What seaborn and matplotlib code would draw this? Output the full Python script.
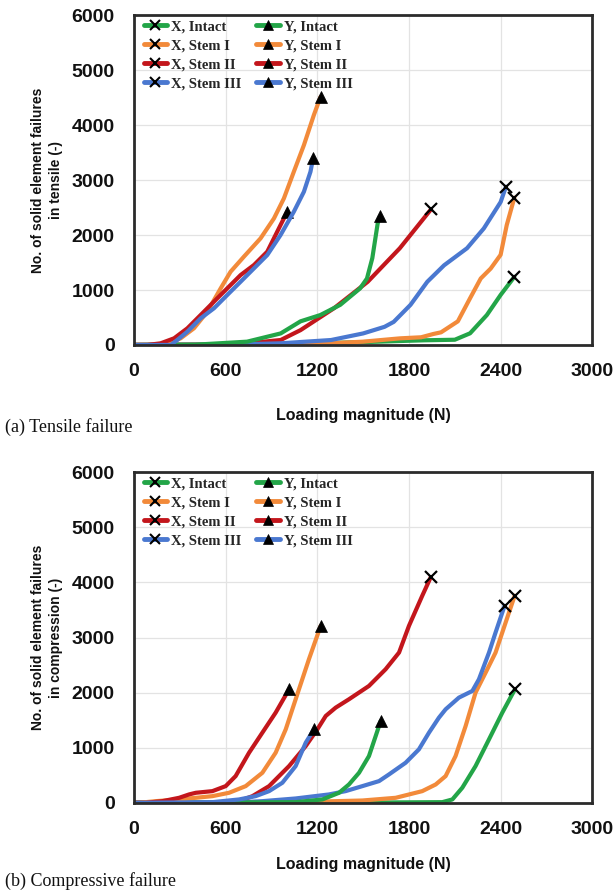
import matplotlib
matplotlib.use("Agg")
import matplotlib.pyplot as plt
from matplotlib.lines import Line2D
import seaborn as sns
import pandas as pd

# ---------------- data ----------------
series_names = ["X, Intact", "X, Stem I", "X, Stem II", "X, Stem III",
                "Y, Intact", "Y, Stem I", "Y, Stem II", "Y, Stem III"]
series_colors = ["#23a548", "#f28a3a", "#c3161c", "#4a78d0",
                 "#23a548", "#f28a3a", "#c3161c", "#4a78d0"]
series_markers = ["x", "x", "x", "x", "^", "^", "^", "^"]

x_ticks = [0, 600, 1200, 1800, 2400, 3000]
y_ticks = [0, 1000, 2000, 3000, 4000, 5000, 6000]

# (a) Tensile failure
ten_x_intact_load = [0, 600, 1200, 1600, 1900, 2100, 2200, 2310, 2400, 2490]
ten_x_intact_cnt = [0, 10, 30, 60, 85, 95, 212, 545, 910, 1240]
ten_x_stem1_load = [0, 600, 1200, 1500, 1740, 1880, 1960, 2010, 2120, 2200, 2270, 2335, 2400, 2440, 2490]
ten_x_stem1_cnt = [0, 5, 20, 60, 120, 140, 200, 230, 430, 850, 1210, 1390, 1640, 2180, 2680]
ten_x_stem2_load = [0, 600, 740, 960, 1090, 1310, 1530, 1740, 1945]
ten_x_stem2_cnt = [0, 5, 30, 90, 270, 670, 1150, 1760, 2470]
ten_x_stem3_load = [0, 600, 960, 1290, 1500, 1640, 1700, 1810, 1920, 2030, 2180, 2290, 2400, 2435]
ten_x_stem3_cnt = [0, 5, 30, 90, 210, 330, 420, 730, 1150, 1450, 1760, 2120, 2600, 2880]
ten_y_intact_load = [0, 400, 740, 960, 1090, 1220, 1350, 1480, 1525, 1560, 1595, 1610]
ten_y_intact_cnt = [0, 5, 60, 210, 430, 545, 730, 1030, 1210, 1580, 2210, 2340]
ten_y_stem1_load = [0, 109, 218, 305, 392, 480, 567, 632, 719, 828, 916, 981, 1046, 1112, 1177, 1221]
ten_y_stem1_cnt = [0, 0, 30, 121, 303, 606, 1030, 1333, 1606, 1939, 2303, 2667, 3152, 3636, 4182, 4515]
ten_y_stem2_load = [0, 87, 174, 262, 349, 436, 523, 610, 698, 785, 872, 959, 1003]
ten_y_stem2_cnt = [0, 0, 30, 121, 303, 545, 788, 1030, 1273, 1455, 1697, 2182, 2424]
ten_y_stem3_load = [0, 240, 283, 349, 436, 523, 610, 698, 785, 872, 959, 1046, 1112, 1155, 1173]
ten_y_stem3_cnt = [0, 0, 91, 242, 485, 667, 909, 1152, 1394, 1636, 2000, 2424, 2788, 3152, 3406]

# (b) Compressive failure
com_x_intact_load = [0, 1200, 2018, 2084, 2149, 2236, 2324, 2411, 2494]
com_x_intact_cnt = [0, 0, 12, 61, 273, 667, 1152, 1636, 2061]
com_x_stem1_load = [0, 622, 1058, 1495, 1713, 1887, 1975, 2040, 2105, 2171, 2236, 2302, 2367, 2433, 2492]
com_x_stem1_cnt = [0, 0, 12, 42, 91, 212, 333, 485, 848, 1394, 2000, 2364, 2727, 3273, 3758]
com_x_stem2_load = [0, 622, 687, 775, 884, 1015, 1124, 1200, 1255, 1320, 1407, 1538, 1647, 1735, 1800, 1887, 1942]
com_x_stem2_cnt = [0, 0, 30, 121, 303, 667, 1030, 1333, 1576, 1727, 1879, 2121, 2424, 2727, 3212, 3758, 4091]
com_x_stem3_load = [0, 622, 840, 1058, 1276, 1385, 1495, 1604, 1669, 1778, 1865, 1931, 1996, 2040, 2127, 2215, 2258, 2324, 2367, 2426]
com_x_stem3_cnt = [0, 0, 30, 79, 152, 212, 303, 394, 515, 727, 970, 1273, 1545, 1697, 1909, 2030, 2242, 2727, 3091, 3576]
com_y_intact_load = [0, 1058, 1233, 1342, 1407, 1473, 1538, 1582, 1615]
com_y_intact_cnt = [0, 12, 61, 182, 333, 545, 848, 1212, 1485]
com_y_stem1_load = [0, 33, 142, 295, 513, 622, 731, 840, 927, 993, 1058, 1145, 1222]
com_y_stem1_cnt = [0, 0, 30, 61, 121, 182, 303, 545, 909, 1333, 1879, 2606, 3212]
com_y_stem2_load = [0, 76, 185, 295, 360, 404, 513, 600, 665, 753, 840, 927, 1015]
com_y_stem2_cnt = [0, 0, 30, 91, 152, 182, 212, 303, 485, 909, 1273, 1636, 2061]
com_y_stem3_load = [0, 513, 687, 796, 884, 971, 1058, 1124, 1178]
com_y_stem3_cnt = [0, 12, 61, 121, 212, 364, 667, 1091, 1333]

tensile = [(ten_x_intact_load, ten_x_intact_cnt), (ten_x_stem1_load, ten_x_stem1_cnt),
           (ten_x_stem2_load, ten_x_stem2_cnt), (ten_x_stem3_load, ten_x_stem3_cnt),
           (ten_y_intact_load, ten_y_intact_cnt), (ten_y_stem1_load, ten_y_stem1_cnt),
           (ten_y_stem2_load, ten_y_stem2_cnt), (ten_y_stem3_load, ten_y_stem3_cnt)]
compressive = [(com_x_intact_load, com_x_intact_cnt), (com_x_stem1_load, com_x_stem1_cnt),
               (com_x_stem2_load, com_x_stem2_cnt), (com_x_stem3_load, com_x_stem3_cnt),
               (com_y_intact_load, com_y_intact_cnt), (com_y_stem1_load, com_y_stem1_cnt),
               (com_y_stem2_load, com_y_stem2_cnt), (com_y_stem3_load, com_y_stem3_cnt)]

# ---------------- style ----------------
sns.set_theme(style="white")
plt.rcParams["font.family"] = ["Liberation Sans", "DejaVu Sans"]

fig = plt.figure(figsize=(6.15, 8.96), dpi=100)
ax_top = fig.add_axes([0.218, 0.615, 0.745, 0.368])
ax_bot = fig.add_axes([0.218, 0.104, 0.745, 0.369])

panels = [
    (ax_top, tensile, "No. of solid element failures\nin tensile (-)", "(a) Tensile failure", 0.523, -0.19),
    (ax_bot, compressive, "No. of solid element failures\nin compression (-)", "(b) Compressive failure", 0.017, -0.165),
]

for ax, data, ylab, caption, cap_y, xlab_y in panels:
    for (load, cnt), name, col, mk in zip(data, series_names, series_colors, series_markers):
        df = pd.DataFrame({"load": load, "count": cnt})
        sns.lineplot(data=df, x="load", y="count", ax=ax, color=col, lw=3.0,
                     sort=False, estimator=None, marker=mk, markevery=[len(load) - 1],
                     markersize=9 if mk == "x" else 8, markeredgewidth=1.6 if mk == "x" else 0.5,
                     markerfacecolor="black", markeredgecolor="black",
                     solid_capstyle="round", solid_joinstyle="round")
    ax.set_xlim(0, 3000)
    ax.set_ylim(0, 6000)
    ax.set_xticks(x_ticks)
    ax.set_yticks(y_ticks)
    ax.grid(True, color="#e3e3e3", lw=0.9)
    ax.set_axisbelow(True)
    for sp in ax.spines.values():
        sp.set_visible(True)
        sp.set_color("#2b2b2b")
        sp.set_linewidth(2.0)
    ax.tick_params(axis="both", length=0, labelsize=14)
    ax.tick_params(axis="y", pad=14)
    ax.tick_params(axis="x", pad=13)
    for lab in ax.get_xticklabels() + ax.get_yticklabels():
        lab.set_fontweight("bold")
        lab.set_color("#111111")
    ax.set_xlabel("Loading magnitude (N)", fontsize=11.5, fontweight="bold", color="#111111")
    ax.xaxis.set_label_coords(0.5, xlab_y)
    ax.set_ylabel(ylab, fontsize=10, fontweight="bold", color="#111111", linespacing=1.35)
    ax.yaxis.label.set_va("center")
    ax.yaxis.set_label_coords(-0.19, 0.5)

    handles = [Line2D([0], [0], color=c, lw=3.5, marker=m, markersize=7 if m == "x" else 6.5,
                      markerfacecolor="black", markeredgecolor="black",
                      markeredgewidth=1.5 if m == "x" else 0.5)
               for c, m in zip(series_colors, series_markers)]
    ax.legend(handles, series_names, loc="upper left", bbox_to_anchor=(0.013, 0.997), ncol=2,
              frameon=False, prop={"family": "Liberation Serif", "weight": "bold", "size": 10.5},
              handlelength=1.6, handletextpad=0.3, columnspacing=1.0, labelspacing=0.4,
              borderaxespad=0.1, borderpad=0.15)

    fig.text(0.008, cap_y, caption, fontsize=13, family="Liberation Serif", color="#111111",
             ha="left", va="center")

fig.savefig("out.png", dpi=100)
